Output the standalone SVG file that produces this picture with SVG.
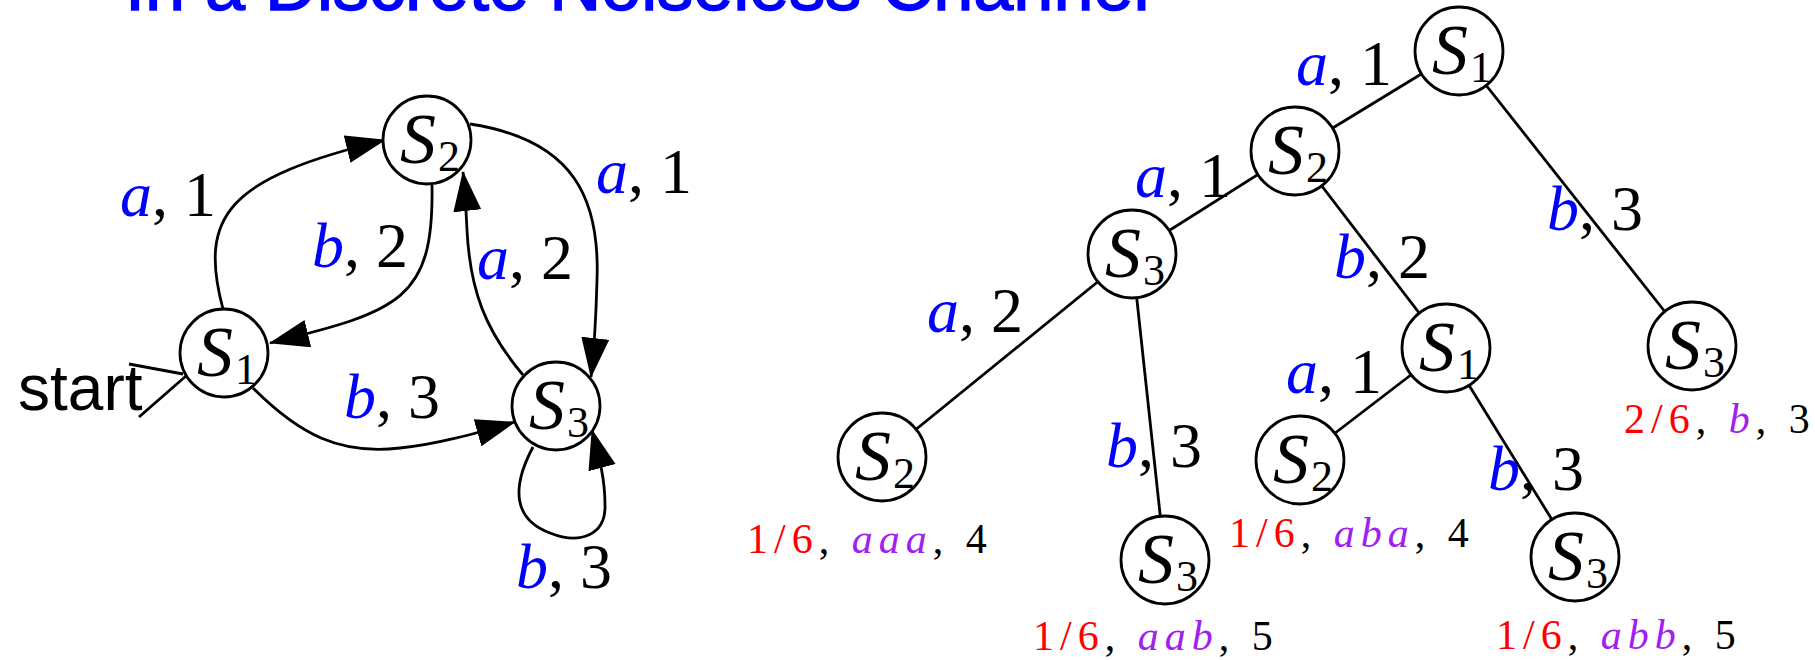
<svg xmlns="http://www.w3.org/2000/svg" width="1815" height="660" viewBox="0 0 1815 660">
<defs>
<style>
.nd circle{fill:#fff;stroke:#000;stroke-width:2.8}
.S{font-family:"Liberation Serif",serif;font-style:italic;font-size:72px;fill:#000}
.sub{font-family:"Liberation Serif",serif;font-size:44px;fill:#000}
.lbl{font-family:"Liberation Serif",serif;font-size:64px;fill:#000}
.bl{fill:#0000ff;font-style:italic}
.leaf{font-family:"Liberation Serif",serif;font-size:42px;letter-spacing:6px;fill:#000}
.red{fill:#ff0000}
.pur{fill:#a020f0;font-style:italic}
.edge{fill:none;stroke:#000;stroke-width:2.8}
.title{font-family:"Liberation Sans",Arial,sans-serif;font-size:72px;fill:#0000ff;stroke:#0000ff;stroke-width:1.5}
.start{font-family:"Liberation Sans",Arial,sans-serif;font-size:64px;fill:#000}
</style>
<marker id="arr" markerUnits="userSpaceOnUse" markerWidth="40" markerHeight="30" viewBox="0 0 40 30" refX="39" refY="14" orient="auto">
<path d="M0,0 L40,14 L0,28 Z" fill="#000"/>
</marker>
</defs>
<rect width="1815" height="660" fill="#fff"/>
<text class="title" x="125" y="10">In a Discrete Noiseless Channel</text>

<g id="connectors">
<path class="edge" d="M223,309 C198,215 228,178 385,140" marker-end="url(#arr)"/>
<path class="edge" d="M432,185 C434,300 400,311 270,343" marker-end="url(#arr)"/>
<path class="edge" d="M470,124 C575,140 600,200 597,280 C596,320 594,350 591,377" marker-end="url(#arr)"/>
<path class="edge" d="M523,375 C485,330 470,290 467,230 C466,210 465,190 463,172" marker-end="url(#arr)"/>
<path class="edge" d="M253,388 C300,435 340,455 400,448 C440,444 480,432 515,422" marker-end="url(#arr)"/>
<path class="edge" d="M533,447 C510,490 515,520 550,533 C580,545 606,535 605,505 C605,480 600,460 592,430" marker-end="url(#arr)"/>
<path class="edge" d="M129,364 L183,374 M139,417 L186,376"/>
<line class="edge" x1="1459" y1="51" x2="1295" y2="151"/>
<line class="edge" x1="1459" y1="51" x2="1692" y2="346"/>
<line class="edge" x1="1295" y1="151" x2="1132" y2="254"/>
<line class="edge" x1="1295" y1="151" x2="1446" y2="348"/>
<line class="edge" x1="1132" y1="254" x2="882" y2="457"/>
<line class="edge" x1="1132" y1="254" x2="1165" y2="560"/>
<line class="edge" x1="1446" y1="348" x2="1300" y2="460"/>
<line class="edge" x1="1446" y1="348" x2="1575" y2="557"/>
</g>

<g id="edge-labels">
<text class="lbl" x="120" y="216"><tspan class="bl">a</tspan>, 1</text>
<text class="lbl" x="312" y="267"><tspan class="bl">b</tspan>, 2</text>
<text class="lbl" x="477" y="279"><tspan class="bl">a</tspan>, 2</text>
<text class="lbl" x="596" y="193"><tspan class="bl">a</tspan>, 1</text>
<text class="lbl" x="344" y="418"><tspan class="bl">b</tspan>, 3</text>
<text class="lbl" x="516" y="588"><tspan class="bl">b</tspan>, 3</text>
<text class="start" x="18" y="410">start</text>
<text class="lbl" x="1296" y="85"><tspan class="bl">a</tspan>, 1</text>
<text class="lbl" x="1135" y="197"><tspan class="bl">a</tspan>, 1</text>
<text class="lbl" x="1334" y="278"><tspan class="bl">b</tspan>, 2</text>
<text class="lbl" x="1547" y="230"><tspan class="bl">b</tspan>, 3</text>
<text class="lbl" x="927" y="332"><tspan class="bl">a</tspan>, 2</text>
<text class="lbl" x="1106" y="467"><tspan class="bl">b</tspan>, 3</text>
<text class="lbl" x="1286" y="393"><tspan class="bl">a</tspan>, 1</text>
<text class="lbl" x="1488" y="490"><tspan class="bl">b</tspan>, 3</text>
</g>

<g id="leaf-labels">
<text class="leaf" x="747" y="553"><tspan class="red">1/6</tspan>, <tspan class="pur">aaa</tspan>, 4</text>
<text class="leaf" x="1033" y="650"><tspan class="red">1/6</tspan>, <tspan class="pur">aab</tspan>, 5</text>
<text class="leaf" x="1229" y="547"><tspan class="red">1/6</tspan>, <tspan class="pur">aba</tspan>, 4</text>
<text class="leaf" x="1496" y="649"><tspan class="red">1/6</tspan>, <tspan class="pur">abb</tspan>, 5</text>
<text class="leaf" x="1624" y="433"><tspan class="red">2/6</tspan>, <tspan class="pur">b</tspan>, 3</text>
</g>

<g id="fsm-S1" class="nd" transform="translate(224,353)"><circle r="44"/><text class="S" x="-27" y="23">S</text><text class="sub" x="11" y="31">1</text></g>
<g id="fsm-S2" class="nd" transform="translate(427,140)"><circle r="44"/><text class="S" x="-27" y="23">S</text><text class="sub" x="11" y="31">2</text></g>
<g id="fsm-S3" class="nd" transform="translate(556,406)"><circle r="44"/><text class="S" x="-27" y="23">S</text><text class="sub" x="11" y="31">3</text></g>

<g id="tree-root-S1" class="nd" transform="translate(1459,51)"><circle r="44"/><text class="S" x="-27" y="23">S</text><text class="sub" x="11" y="31">1</text></g>
<g id="tree-a-S2" class="nd" transform="translate(1295,151)"><circle r="44"/><text class="S" x="-27" y="23">S</text><text class="sub" x="11" y="31">2</text></g>
<g id="tree-b-S3" class="nd" transform="translate(1692,346)"><circle r="44"/><text class="S" x="-27" y="23">S</text><text class="sub" x="11" y="31">3</text></g>
<g id="tree-aa-S3" class="nd" transform="translate(1132,254)"><circle r="44"/><text class="S" x="-27" y="23">S</text><text class="sub" x="11" y="31">3</text></g>
<g id="tree-ab-S1" class="nd" transform="translate(1446,348)"><circle r="44"/><text class="S" x="-27" y="23">S</text><text class="sub" x="11" y="31">1</text></g>
<g id="tree-aaa-S2" class="nd" transform="translate(882,457)"><circle r="44"/><text class="S" x="-27" y="23">S</text><text class="sub" x="11" y="31">2</text></g>
<g id="tree-aab-S3" class="nd" transform="translate(1165,560)"><circle r="44"/><text class="S" x="-27" y="23">S</text><text class="sub" x="11" y="31">3</text></g>
<g id="tree-aba-S2" class="nd" transform="translate(1300,460)"><circle r="44"/><text class="S" x="-27" y="23">S</text><text class="sub" x="11" y="31">2</text></g>
<g id="tree-abb-S3" class="nd" transform="translate(1575,557)"><circle r="44"/><text class="S" x="-27" y="23">S</text><text class="sub" x="11" y="31">3</text></g>
</svg>
